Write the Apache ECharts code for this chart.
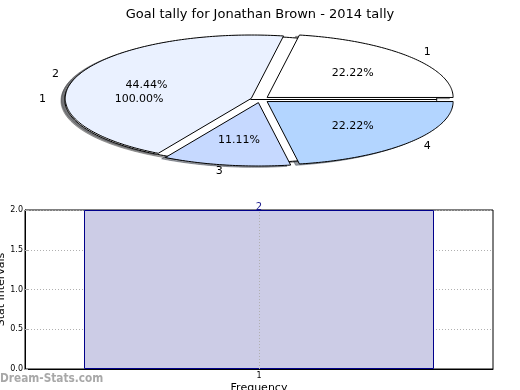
<!DOCTYPE html>
<html>
<head>
<meta charset="utf-8">
<script src="https://cdn.jsdelivr.net/npm/echarts@6/dist/echarts.min.js"></script>
<style>html,body{margin:0;padding:0;background:#fff;}#c{width:520px;height:390px;}</style>
</head>
<body>
<div id="c"></div>
<script>
// ---- data ----
const titleText = 'Goal tally for Jonathan Brown - 2014 tally';
const basePieLabels = ['1'];
const basePieValues = [1];
const sliceLabels = ['1', '2', '3', '4'];
const sliceValues = [2, 4, 1, 2];
const barCategories = ['1'];
const barValues = [2];
const yTickValues = [0, 0.5, 1, 1.5, 2];

// ---- style / layout ----
const baseColors = ['#ffffff'];
const sliceColors = ['#ffffff', '#eaf1ff', '#c6d9ff', '#b3d5ff'];
const PIE = { cx: 260, cy: 99.5, rx: 186, ry: 63.4, explode: 0.05, pct: 0.6, lab: 1.1, sdx: -0.02, sdy: -0.02 };
const FONT = 'DejaVu Sans';

function buildWedges(values, labels, colors) {
  const total = values.reduce((a, b) => a + b, 0);
  let cum = 0;
  return values.map((v, i) => {
    const s = cum / total * 360; cum += v;
    const e = cum / total * 360;
    return { start: s, end: e, label: labels[i], pct: (v / total * 100).toFixed(2) + '%', color: colors[i % colors.length] };
  });
}
const wedges = buildWedges(basePieValues, basePieLabels, baseColors)
  .concat(buildWedges(sliceValues, sliceLabels, sliceColors));

function rad(d) { return d * Math.PI / 180; }
function wedgeGeom(w) {
  const mid = rad((w.start + w.end) / 2);
  const ox = PIE.cx + PIE.explode * PIE.rx * Math.cos(mid);
  const oy = PIE.cy - PIE.explode * PIE.ry * Math.sin(mid);
  const pts = [[ox, oy]];
  const n = Math.max(2, Math.ceil(w.end - w.start));
  for (let k = 0; k <= n; k++) {
    const a = rad(w.start + (w.end - w.start) * k / n);
    pts.push([ox + PIE.rx * Math.cos(a), oy - PIE.ry * Math.sin(a)]);
  }
  return { ox, oy, mid, pts };
}
function shade(hex) {
  const r = parseInt(hex.slice(1, 3), 16), g = parseInt(hex.slice(3, 5), 16), b = parseInt(hex.slice(5, 7), 16);
  return 'rgba(' + Math.round(r * 0.3) + ',' + Math.round(g * 0.3) + ',' + Math.round(b * 0.3) + ',0.5)';
}

const chart = echarts.init(document.getElementById('c'), null, { renderer: 'canvas' });
const wedgeData = wedges.map((w, i) => ({ value: [i] }));

const option = {
  animation: false,
  backgroundColor: '#ffffff',
  title: {
    text: titleText, left: 'center', top: 3,
    textStyle: { fontFamily: FONT, fontSize: 13, fontWeight: 'normal', color: '#000' }
  },
  graphic: [{
    type: 'text', left: 0, top: 373,
    style: { text: 'Dream-Stats.com', fontFamily: FONT, fontSize: 12, fontWeight: 'bold', fill: '#a8a8a8' },
    scaleX: 0.88
  }],
  grid: { left: 25, right: 27, top: 210, bottom: 21, show: true, borderColor: '#000', borderWidth: 1, containLabel: false, outerBoundsMode: 'none' },
  xAxis: {
    type: 'category', data: barCategories,
    name: 'Frequency', nameLocation: 'middle', nameGap: 14, nameMoveOverlap: false,
    nameTextStyle: { fontFamily: FONT, fontSize: 11, color: '#000' },
    axisLine: { lineStyle: { color: '#000' } },
    axisTick: { show: false },
    axisLabel: { fontFamily: FONT, fontSize: 8, color: '#000', margin: 3 },
    splitLine: { show: false }
  },
  yAxis: {
    type: 'value', min: 0, max: 2, interval: 0.5,
    name: 'Stat Intervals', nameLocation: 'middle', nameGap: 18, nameRotate: 90, nameMoveOverlap: false,
    nameTextStyle: { fontFamily: FONT, fontSize: 11, color: '#000' },
    axisLine: { show: true, lineStyle: { color: '#000' } },
    axisTick: { show: true, inside: true, length: 3, lineStyle: { color: '#aaa' } },
    axisLabel: { fontFamily: FONT, fontSize: 8, color: '#000', margin: 2, formatter: v => v.toFixed(1) },
    splitLine: { show: true, lineStyle: { color: '#b0b0b0', type: [1, 2] } }
  },
  series: [
    {
      type: 'bar', data: barValues, barWidth: 350, z: 2,
      itemStyle: { color: 'rgb(204,204,230)', borderColor: '#00008b', borderWidth: 1 },
      label: { show: true, position: 'top', distance: -2, fontFamily: FONT, fontSize: 10, color: '#1a1a8c' }
    },
    {
      type: 'line', data: [], z: 3,
      markLine: {
        silent: true, symbol: 'none', label: { show: false },
        lineStyle: { color: '#b0b0b0', type: [1, 2], width: 1 },
        data: [{ xAxis: 0 }]
      }
    },
    {
      type: 'custom', coordinateSystem: 'none', z: 10, data: wedgeData,
      renderItem: function (params) {
        const w = wedges[params.dataIndex];
        const g = wedgeGeom(w);
        const dx = PIE.sdx * PIE.rx, dy = -PIE.sdy * PIE.ry;
        return {
          type: 'polygon',
          shape: { points: g.pts.map(p => [p[0] + dx, p[1] + dy]) },
          style: { fill: shade(w.color), stroke: shade(w.color), lineWidth: 1 }
        };
      }
    },
    {
      type: 'custom', coordinateSystem: 'none', z: 11, data: wedgeData,
      renderItem: function (params) {
        const w = wedges[params.dataIndex];
        const g = wedgeGeom(w);
        return {
          type: 'polygon',
          shape: { points: g.pts },
          style: { fill: w.color, stroke: '#000', lineWidth: 1, lineJoin: 'miter' }
        };
      }
    },
    {
      type: 'custom', coordinateSystem: 'none', z: 12, data: wedgeData,
      renderItem: function (params) {
        const w = wedges[params.dataIndex];
        const g = wedgeGeom(w);
        const c = Math.cos(g.mid), s = Math.sin(g.mid);
        const lx = g.ox + PIE.lab * PIE.rx * c, ly = g.oy - PIE.lab * PIE.ry * s;
        const px = g.ox + PIE.pct * PIE.rx * c, py = g.oy - PIE.pct * PIE.ry * s;
        return {
          type: 'group',
          children: [
            { type: 'text', x: lx, y: ly, style: { text: w.label, fontFamily: FONT, fontSize: 11, fill: '#000', align: c > 0 ? 'left' : 'right', verticalAlign: 'middle' } },
            { type: 'text', x: px, y: py, style: { text: w.pct, fontFamily: FONT, fontSize: 11, fill: '#000', align: 'center', verticalAlign: 'middle' } }
          ]
        };
      }
    }
  ]
};
chart.setOption(option);
</script>
</body>
</html>
